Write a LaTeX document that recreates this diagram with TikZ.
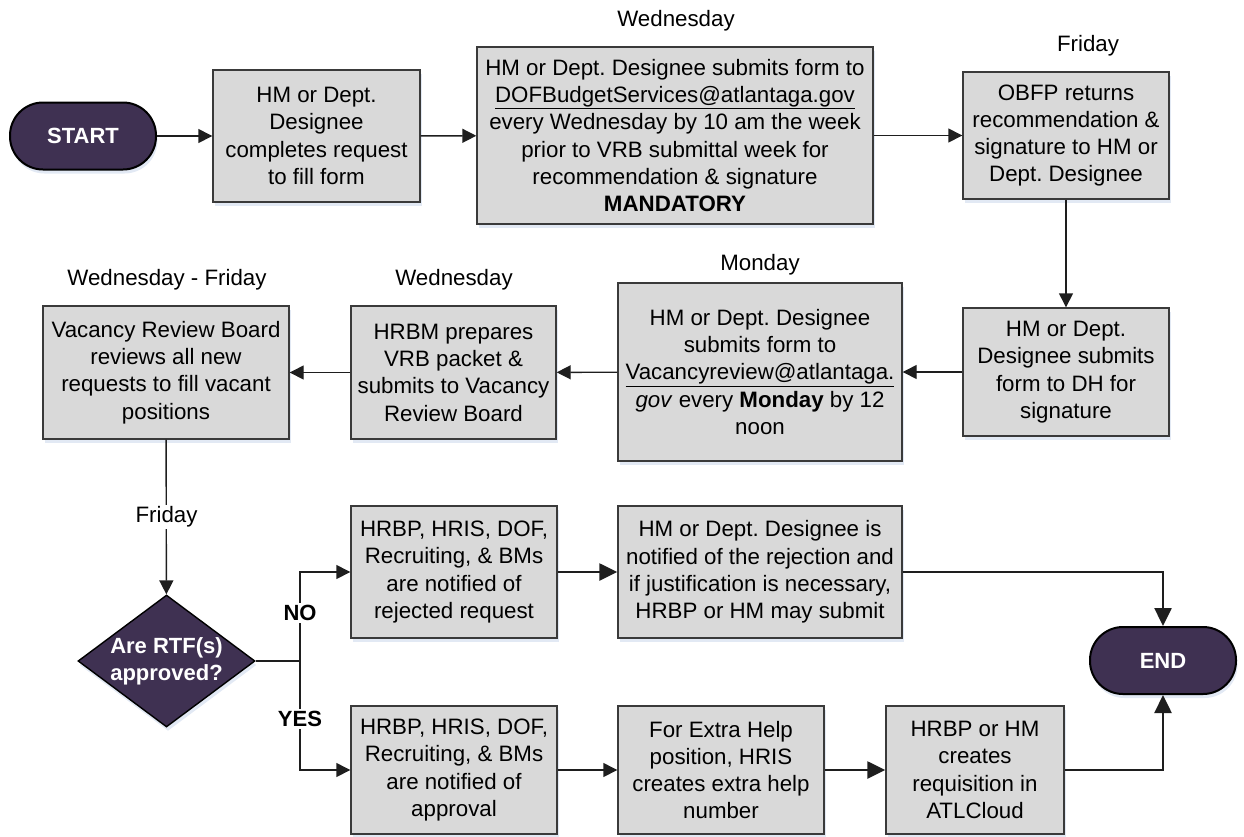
\documentclass[tikz,border=0pt]{standalone}
\usepackage{fontspec}
\setmainfont{Liberation Sans}
\usetikzlibrary{arrows.meta,shapes.geometric,shadows}
\definecolor{boxfill}{HTML}{D9D9D9}
\definecolor{boxline}{HTML}{3A3A3A}
\definecolor{termfill}{HTML}{3F3152}
\definecolor{shadowblue}{HTML}{E2E9F4}
\definecolor{wire}{HTML}{1E1E1E}
\frenchspacing

\begin{document}
\begin{tikzpicture}[x=1pt,y=-1pt,
  every node/.style={font=\fontsize{22.3}{27.3}\selectfont},
  softshadow/.style={drop shadow={fill=shadowblue, shadow xshift=1.5pt, shadow yshift=-4pt, opacity=1}},
  box/.style={draw=boxline, line width=1.4pt, fill=boxfill, align=center,
              inner sep=0pt, softshadow},
  term/.style={draw=black, line width=2pt, fill=termfill, text=white,
               font=\fontsize{22}{27}\selectfont\bfseries,
               rounded corners=33pt, inner sep=0pt, softshadow},
  decision/.style={diamond, draw=black, line width=1.4pt, fill=termfill,
                   inner sep=0pt, softshadow},
  daylabel/.style={inner sep=2pt},
  flow/.style={draw=wire, line width=1.4pt, -{Triangle[length=14pt,width=14pt]}},
  boldflow/.style={draw=wire, line width=2.5pt, -{Triangle[length=18pt,width=17pt]}},
  branchlabel/.style={fill=white, inner sep=2pt, font=\fontsize{22}{27}\selectfont\bfseries}
]
\useasboundingbox (0,0) rectangle (1244,836);

% top row
\node[term, minimum width=146pt, minimum height=67pt] (start) at (83,136) {START};
\node[box, minimum width=207pt, minimum height=132pt] (fill) at (316.5,136)
  {HM or Dept.\\Designee\\completes request\\to fill form};
\node[box, minimum width=396pt, minimum height=177pt] (dof) at (675,135.5)
  {HM or Dept. Designee submits form to\\\underline{DOFBudgetServices@atlantaga.gov}\\every Wednesday by 10 am the week\\prior to VRB submittal week for\\recommendation \& signature\\\textbf{MANDATORY}};
\node[daylabel] (dofday) at (676,21) {Wednesday};
\node[box, minimum width=206pt, minimum height=127pt] (obfp) at (1066,135.5)
  {OBFP returns\\recommendation \&\\signature to HM or\\Dept. Designee};
\node[daylabel] (obfpday) at (1088,46) {Friday};

% middle row
\node[box, minimum width=206pt, minimum height=128pt] (dh) at (1066,372)
  {HM or Dept.\\Designee submits\\form to DH for\\signature};
\node[box, minimum width=284pt, minimum height=178pt] (vrmail) at (760,372)
  {HM or Dept. Designee\\submits form to\\\underline{Vacancyreview@atlantaga.}\\\textit{gov} every \textbf{Monday} by 12\\noon};
\node[daylabel] (vrday) at (760,265) {Monday};
\node[box, minimum width=205pt, minimum height=133pt] (hrbm) at (453.5,372.5)
  {HRBM prepares\\VRB packet \&\\submits to Vacancy\\Review Board};
\node[daylabel] (hrbmday) at (454,280) {Wednesday};
\node[box, minimum width=246pt, minimum height=133pt] (vrb) at (166,372.5)
  {Vacancy Review Board\\reviews all new\\requests to fill vacant\\positions};
\node[daylabel] (vrbday) at (167,280) {Wednesday - Friday};

% decision
\node[decision, minimum width=177pt, minimum height=132pt] (dec) at (166.5,661) {};
\node[text=white, font=\fontsize{22}{27}\selectfont\bfseries, align=center] (dectext) at (dec) {Are RTF(s)\\approved?};
\coordinate (split) at (300,661);

% rejected branch
\node[box, minimum width=206pt, minimum height=132pt] (rej) at (454,572)
  {HRBP, HRIS, DOF,\\Recruiting, \& BMs\\are notified of\\rejected request};
\node[box, minimum width=284pt, minimum height=132pt] (just) at (760,572)
  {HM or Dept. Designee is\\notified of the rejection and\\if justification is necessary,\\HRBP or HM may submit};

% approved branch
\node[box, minimum width=206pt, minimum height=128pt] (appr) at (454,770)
  {HRBP, HRIS, DOF,\\Recruiting, \& BMs\\are notified of\\approval};
\node[box, minimum width=206pt, minimum height=128pt] (extra) at (721,770)
  {For Extra Help\\position, HRIS\\creates extra help\\number};
\node[box, minimum width=178pt, minimum height=128pt] (req) at (975,770)
  {HRBP or HM\\creates\\requisition in\\ATLCloud};

\node[term, minimum width=146pt, minimum height=67pt] (end) at (1163,660.5) {END};

% connectors
\draw[flow] (start) -- (fill);
\draw[flow] (fill) -- (dof);
\draw[flow] (dof) -- (obfp);
\draw[flow] (obfp) -- (dh);
\draw[flow] (dh) -- (vrmail);
\draw[flow] (vrmail) -- (hrbm);
\draw[flow] (hrbm) -- (vrb);
\draw[flow] (vrb) -- (dec);
\node[fill=white, inner sep=2pt] (fri) at (166.5,517) {Friday};
\draw[draw=wire, line width=1.4pt] (dec.east) -- (split);
\draw[flow] (split) |- (rej.west);
\draw[flow] (split) |- (appr.west);
\node[branchlabel] (nolabel) at (300,613) {NO};
\node[branchlabel] (yeslabel) at (300,719) {YES};
\draw[boldflow] (rej) -- (just);
\draw[boldflow] (just.east) -| (end.north);
\draw[flow] (appr) -- (extra);
\draw[boldflow] (extra) -- (req);
\draw[boldflow] (req.east) -| (end.south);
\end{tikzpicture}
\end{document}
